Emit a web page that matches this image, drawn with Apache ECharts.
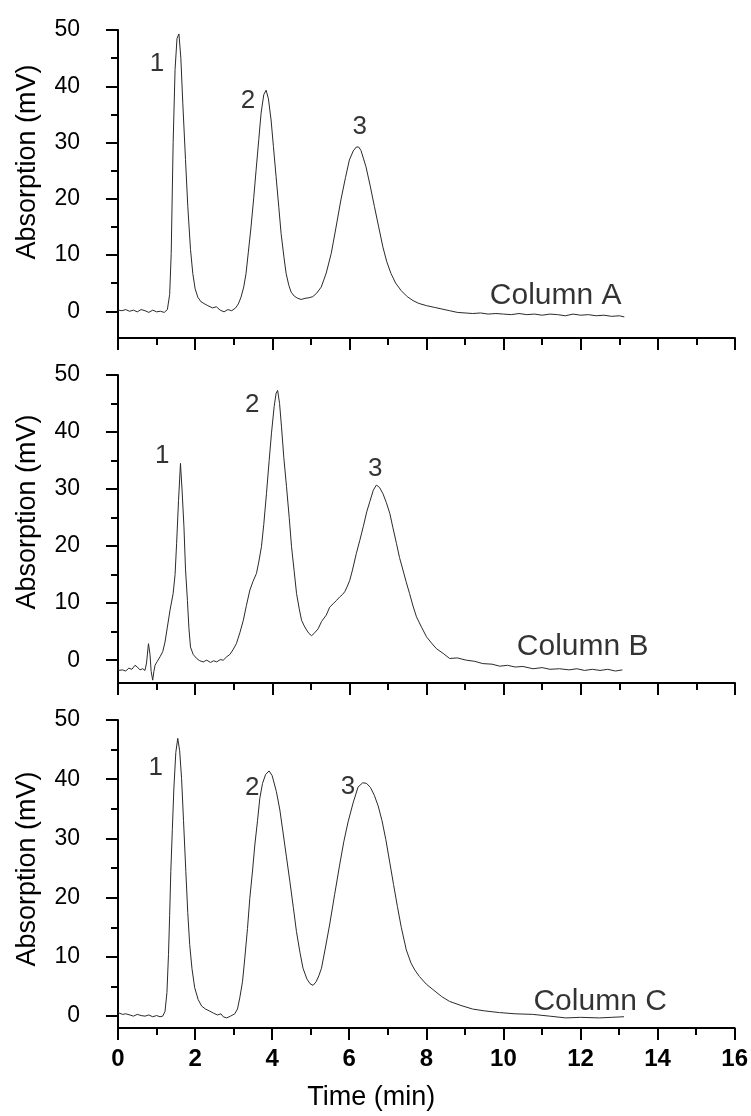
<!DOCTYPE html>
<html>
<head>
<meta charset="utf-8">
<script src="https://cdn.jsdelivr.net/npm/echarts@6/dist/echarts.min.js"></script>
<style>
  html, body { margin: 0; padding: 0; background: #fff; }
  #chart { width: 751px; height: 1116px; }
</style>
</head>
<body>
<div id="chart"></div>
<script>
// Chromatograms of the same three-component mixture on three columns.
// Retention time (min) and detector signal (mV), read point by point.

const timeA = [0.00,0.10,0.20,0.30,0.40,0.50,0.60,0.70,0.80,0.90,1.00,1.10,1.20,1.28,1.34,1.38,1.43,1.48,1.53,1.58,1.63,1.68,1.75,1.81,1.88,1.94,2.00,2.07,2.15,2.25,2.33,2.45,2.55,2.65,2.75,2.85,2.95,3.05,3.12,3.19,3.26,3.32,3.38,3.45,3.52,3.58,3.65,3.71,3.78,3.84,3.90,3.97,4.03,4.10,4.17,4.23,4.30,4.36,4.43,4.49,4.57,4.66,4.75,4.85,4.95,5.05,5.15,5.27,5.40,5.53,5.65,5.78,5.90,6.00,6.10,6.18,6.24,6.30,6.43,6.54,6.65,6.76,6.87,6.97,7.08,7.20,7.34,7.50,7.65,7.80,8.00,8.20,8.40,8.60,8.80,9.00,9.20,9.40,9.60,9.80,10.00,10.20,10.40,10.60,10.80,11.00,11.20,11.40,11.60,11.80,12.00,12.20,12.40,12.60,12.80,13.00,13.13];
const signalA = [0.2,0.1,0.3,0.0,0.2,-0.1,0.3,0.1,-0.2,0.2,-0.1,0.0,-0.2,0.3,3.0,10.3,30.0,43.0,48.5,49.3,45.0,37.0,27.0,18.6,11.0,6.7,4.0,2.5,1.7,1.3,1.0,0.6,0.8,0.2,-0.1,0.3,0.1,0.6,1.3,2.5,4.3,6.7,10.5,15.0,20.2,25.0,30.5,35.2,38.5,39.3,37.8,34.0,29.3,23.9,18.5,13.8,9.8,6.7,4.6,3.4,2.7,2.3,2.1,2.3,2.4,2.6,3.2,4.3,6.8,10.3,14.8,19.8,23.8,26.9,28.5,29.2,29.2,28.6,25.7,22.3,18.6,15.0,11.4,8.8,6.7,5.0,3.7,2.6,1.9,1.4,1.0,0.7,0.4,0.1,-0.2,-0.3,-0.4,-0.3,-0.5,-0.4,-0.5,-0.6,-0.4,-0.6,-0.5,-0.7,-0.5,-0.6,-0.8,-0.5,-0.7,-0.6,-0.8,-0.7,-0.9,-0.8,-1.0];

const timeB = [0.00,0.05,0.12,0.20,0.28,0.36,0.44,0.50,0.57,0.64,0.70,0.74,0.79,0.83,0.86,0.90,0.93,0.96,1.02,1.09,1.16,1.22,1.28,1.35,1.43,1.48,1.52,1.57,1.62,1.66,1.71,1.75,1.80,1.84,1.88,1.95,2.04,2.12,2.21,2.30,2.40,2.48,2.56,2.65,2.73,2.82,2.90,2.98,3.07,3.16,3.25,3.33,3.42,3.50,3.59,3.65,3.72,3.78,3.85,3.92,3.98,4.05,4.10,4.14,4.19,4.24,4.30,4.37,4.44,4.50,4.57,4.63,4.70,4.76,4.83,4.89,4.95,5.02,5.10,5.19,5.28,5.40,5.49,5.58,5.67,5.75,5.82,5.88,5.95,6.01,6.08,6.18,6.27,6.36,6.45,6.53,6.62,6.70,6.78,6.87,6.96,7.05,7.13,7.22,7.30,7.39,7.47,7.56,7.65,7.74,7.87,8.00,8.13,8.26,8.43,8.60,8.80,9.03,9.25,9.46,9.70,9.90,10.10,10.30,10.50,10.76,11.00,11.20,11.45,11.70,11.90,12.10,12.30,12.50,12.70,12.90,13.08];
const signalB = [-1.8,-2.0,-1.7,-1.9,-1.4,-1.6,-0.9,-1.2,-1.7,-1.5,-1.8,-0.5,2.9,1.0,-2.0,-3.5,-2.0,-0.9,-0.2,0.6,1.5,3.2,5.8,8.8,11.7,15.0,20.5,28.0,34.5,30.0,23.4,16.0,10.5,5.5,2.3,1.0,0.3,-0.1,-0.3,0.0,-0.4,-0.1,-0.3,0.1,0.0,0.6,1.0,1.8,2.9,4.8,7.0,9.6,12.3,13.8,15.2,17.2,19.9,23.8,29.2,35.0,39.8,44.5,46.8,47.3,45.0,40.9,35.5,30.4,25.0,19.9,15.5,11.7,9.0,7.0,6.0,5.3,4.7,4.3,4.8,5.5,6.8,7.9,9.3,9.9,10.5,11.1,11.5,12.0,13.0,14.0,15.8,18.7,21.0,23.4,26.0,27.8,29.8,30.7,30.3,29.2,27.6,25.7,23.2,20.5,18.0,15.8,13.8,11.7,9.5,7.6,5.8,4.1,3.0,2.0,1.2,0.3,0.4,0.0,-0.2,-0.6,-0.7,-1.05,-0.9,-1.2,-1.1,-1.5,-1.3,-1.6,-1.5,-1.7,-1.5,-1.8,-1.6,-1.8,-1.6,-1.9,-1.7];

const timeC = [0.00,0.05,0.12,0.20,0.31,0.40,0.50,0.60,0.70,0.80,0.90,1.00,1.09,1.16,1.22,1.27,1.31,1.34,1.37,1.41,1.45,1.50,1.55,1.60,1.65,1.70,1.76,1.81,1.86,1.92,1.99,2.08,2.17,2.27,2.38,2.48,2.58,2.67,2.73,2.82,2.92,3.03,3.10,3.16,3.23,3.29,3.36,3.42,3.49,3.55,3.62,3.68,3.75,3.83,3.92,4.00,4.11,4.20,4.28,4.37,4.46,4.55,4.63,4.72,4.80,4.90,4.98,5.06,5.14,5.21,5.28,5.38,5.49,5.62,5.75,5.86,5.97,6.10,6.23,6.35,6.45,6.55,6.65,6.75,6.85,6.95,7.05,7.15,7.25,7.35,7.48,7.60,7.70,7.82,8.00,8.17,8.40,8.60,8.90,9.20,9.50,9.90,10.30,10.76,11.20,11.62,12.00,12.49,12.80,13.13];
const signalC = [0.6,0.6,0.3,0.4,0.2,0.0,0.3,0.1,0.0,0.2,-0.1,0.1,-0.1,0.0,0.8,4.0,10.4,17.0,24.4,31.5,38.5,44.5,46.9,44.8,40.1,33.0,24.4,17.5,12.1,8.0,4.8,2.8,1.7,1.2,0.85,0.5,0.2,0.4,-0.1,-0.3,0.0,0.4,1.2,3.1,5.8,9.8,14.8,19.9,24.5,28.9,33.0,36.8,39.3,40.8,41.4,40.6,37.9,34.8,31.1,26.9,22.7,18.3,14.3,10.8,8.1,6.3,5.5,5.2,5.8,6.8,8.1,11.5,15.4,20.5,25.5,29.5,32.8,36.0,38.7,39.4,39.3,38.6,37.3,35.5,33.0,29.8,26.0,22.2,18.5,15.0,11.2,9.0,7.8,6.7,5.4,4.5,3.3,2.5,1.8,1.2,0.9,0.6,0.4,0.3,0.0,-0.3,-0.2,-0.3,-0.2,-0.1];

// Annotation text and its anchor in data units (time, mV)
const peakNames = ['1', '2', '3'];
const peakAnchorsA = [[1.01, 44.0], [3.37, 37.4], [6.27, 32.7]];
const peakAnchorsB = [[1.15, 35.8], [3.48, 44.8], [6.67, 33.6]];
const peakAnchorsC = [[0.98, 41.9], [3.48, 38.6], [5.97, 38.8]];
const columnNames = ['Column A', 'Column B', 'Column C'];
const columnAnchors = [[11.35, 2.8], [12.05, 2.4], [12.51, 2.5]];

// Axis ticks
const yMajorTicks = [0, 10, 20, 30, 40, 50];
const yMinorTicks = [5, 15, 25, 35, 45];
const yMins = [-4.75, -4, -2];
const xTickLabels = ['0', '2', '4', '6', '8', '10', '12', '14', '16'];

const FONT = '"Liberation Sans", Arial, Helvetica, sans-serif';
const INK = '#000';

const panels = [
  { t: timeA, v: signalA, peaks: peakAnchorsA, top: 30, namePad: 44 },
  { t: timeB, v: signalB, peaks: peakAnchorsB, top: 375, namePad: 34 },
  { t: timeC, v: signalC, peaks: peakAnchorsC, top: 720, namePad: 10 }
];

const grids = [], xAxes = [], yAxes = [], series = [];

panels.forEach((p, i) => {
  const last = i === panels.length - 1;
  grids.push({ left: 118, width: 617, top: p.top, height: 308 });

  xAxes.push({
    type: 'value', gridIndex: i, min: 0, max: 16, interval: 2,
    axisLine: { onZero: false, lineStyle: { color: INK, width: 2 } },
    axisTick: { show: true, length: 12, lineStyle: { color: INK, width: 2 } },
    minorTick: { show: true, splitNumber: 2, length: 7, lineStyle: { color: INK, width: 2 } },
    splitLine: { show: false },
    axisLabel: {
      show: last, margin: 19, color: INK, fontFamily: FONT, fontSize: 24, fontWeight: 'bold',
      formatter: (val) => xTickLabels[Math.round(val / 2)]
    },
    name: last ? 'Time (min)' : '',
    nameLocation: 'middle', nameGap: 56,
    nameTextStyle: { color: INK, fontFamily: FONT, fontSize: 27, padding: [0, 110, 0, 0] }
  });

  // labelled axis with the major ticks
  yAxes.push({
    type: 'value', gridIndex: i, min: yMins[i], max: 50,
    axisLine: { show: true, lineStyle: { color: INK, width: 2 } },
    axisTick: { show: true, length: 12, customValues: yMajorTicks, lineStyle: { color: INK, width: 2 } },
    axisLabel: { show: true, customValues: yMajorTicks, margin: 38, color: INK, fontFamily: FONT, fontSize: 23 },
    splitLine: { show: false },
    name: 'Absorption (mV)', nameLocation: 'middle', nameGap: 77, nameRotate: 90,
    nameTextStyle: { color: INK, fontFamily: FONT, fontSize: 27, padding: [0, 0, 0, p.namePad] }
  });
  // companion axis carrying only the short minor ticks
  yAxes.push({
    type: 'value', gridIndex: i, min: yMins[i], max: 50, position: 'left',
    axisLine: { show: false },
    axisTick: { show: true, length: 7, customValues: yMinorTicks, lineStyle: { color: INK, width: 2 } },
    axisLabel: { show: false },
    splitLine: { show: false }
  });

  series.push({
    type: 'line', xAxisIndex: i, yAxisIndex: 2 * i,
    data: p.t.map((t, k) => [t, p.v[k]]),
    showSymbol: false, symbol: 'none', silent: true,
    lineStyle: { color: '#2a2a2a', width: 1 }
  });

  const notes = p.peaks.map((a, k) => ({ value: a, name: peakNames[k], label: { fontSize: 26 } }));
  notes.push({ value: columnAnchors[i], name: columnNames[i], label: { fontSize: 30 } });
  series.push({
    type: 'scatter', xAxisIndex: i, yAxisIndex: 2 * i,
    symbolSize: 0, silent: true, data: notes,
    label: {
      show: true, position: 'inside', formatter: '{b}',
      color: INK, textBorderWidth: 0, fontFamily: FONT, align: 'center', verticalAlign: 'middle'
    }
  });
});

const chart = echarts.init(document.getElementById('chart'), null, { renderer: 'canvas' });
chart.setOption({
  animation: false,
  backgroundColor: '#fff',
  grid: grids,
  xAxis: xAxes,
  yAxis: yAxes,
  series: series
});
</script>
</body>
</html>
